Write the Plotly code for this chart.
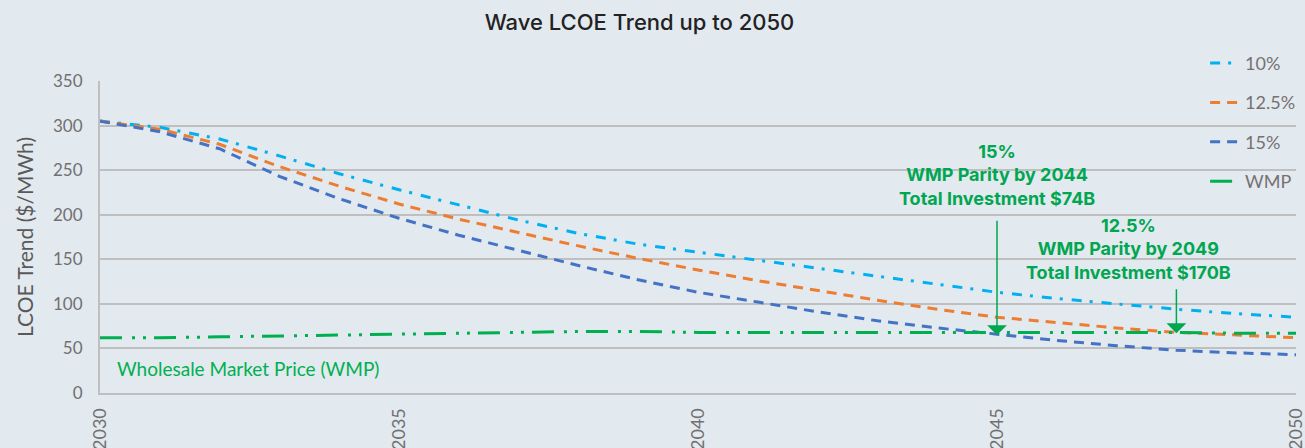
import plotly.graph_objects as go

years = list(range(2030, 2051))
lcoe_10 = [305, 298, 285, 266, 246, 228, 211, 194, 179, 167, 158, 149, 140, 131, 122, 113, 106, 100, 94, 89, 85]
lcoe_125 = [305, 296, 279, 254, 232, 212, 195, 180, 165, 151, 138, 126, 115, 104, 94, 85, 79, 73, 68, 65, 62]
lcoe_15 = [305, 293, 274, 243, 218, 196, 177, 160, 143, 127, 113, 102, 91, 81, 73, 66, 59, 53, 48, 45, 43]
wmp = [62, 62, 63, 64, 65, 66, 67, 68, 69, 69, 68, 68, 68, 68, 68, 68, 68, 68, 68, 67, 67]

series_names = ["10%", "12.5%", "15%", "WMP"]
series_colors = ["#00B0F0", "#ED7D31", "#4472C4", "#00B050"]
series_dash = ["10px,8px,3px,9px", "10px,7px", "10px,7px", "22px,10px,3px,8px,3px,8px"]

x_ticks = [2030, 2035, 2040, 2045, 2050]
y_ticks = [0, 50, 100, 150, 200, 250, 300, 350]

note_texts = ["15%<br>WMP Parity by 2044<br>Total Investment $74B",
              "12.5%<br>WMP Parity by 2049<br>Total Investment $170B"]
note_pos = [(2045, 245), (2047.2, 161)]
arrow_tail = [(2045, 195), (2048, 118)]
arrow_tip = [(2045, 65), (2048, 67)]

fig = go.Figure()
for name, vals, col, dash in zip(series_names, [lcoe_10, lcoe_125, lcoe_15, wmp], series_colors, series_dash):
    fig.add_trace(go.Scatter(x=years, y=vals, mode="lines", name=name, legendgroup=name,
                             line=dict(color=col, width=3, dash=dash)))

green = "#00A650"
for txt, (nx, ny) in zip(note_texts, note_pos):
    fig.add_annotation(x=nx, y=ny, xref="x", yref="y", text="<b>" + txt + "</b>", showarrow=False,
                       font=dict(family="Inter", size=18, color=green), align="center")
for (tx, ty), (hx, hy) in zip(arrow_tail, arrow_tip):
    fig.add_annotation(x=hx, y=hy, xref="x", yref="y", ax=tx, ay=ty, axref="x", ayref="y",
                       text="", showarrow=True, arrowhead=1, arrowsize=2.2, arrowwidth=1.5,
                       arrowcolor=green)

fig.add_annotation(x=2030.25, y=28, xref="x", yref="y", text="Wholesale Market Price (WMP)",
                   showarrow=False, xanchor="left", font=dict(family="Lato", size=19, color="#00B050"))

bg = "#E2E9EF"
fig.update_layout(
    width=1305, height=448,
    paper_bgcolor=bg, plot_bgcolor=bg,
    margin=dict(l=100, r=9, t=81, b=55, autoexpand=False),
    title=dict(text="Wave LCOE Trend up to 2050", x=0.49, xanchor="center", y=0.95, yanchor="middle",
               font=dict(family="Inter", size=22, color="#222222", weight=500)),
    legend=dict(x=0.924, y=0.90, xref="paper", yref="container", xanchor="left", yanchor="top",
                bgcolor="rgba(0,0,0,0)",
                font=dict(family="Lato", size=18, color="#767171"), tracegroupgap=13),
    showlegend=True,
)
fig.update_xaxes(range=[2030, 2050], tickvals=x_ticks, ticktext=[str(v) for v in x_ticks],
                 tickangle=-90, showgrid=False, showline=True, linecolor="#BFBFBF", linewidth=2,
                 tickfont=dict(family="Lato", size=18, color="#707070"), ticks="", zeroline=False,
                 ticklabelstandoff=6, automargin=False, ticklabeloverflow="allow")
fig.update_yaxes(range=[0, 350], tickvals=y_ticks, showgrid=True, gridcolor="#BFBFBF", gridwidth=2,
                 showline=True, linecolor="#BFBFBF", linewidth=2, zeroline=False,
                 tickfont=dict(family="Lato", size=17, color="#707070"), ticklabelstandoff=12,
                 automargin=False,
                 title=dict(text="LCOE Trend ($/MWh)", font=dict(family="Lato", size=21, color="#595959"),
                            standoff=14))

fig.write_html("out.html", config={"displayModeBar": False},
               post_script="document.body.style.margin='0';document.body.style.background='%s';"
                           "document.documentElement.style.overflow='hidden';" % bg)
